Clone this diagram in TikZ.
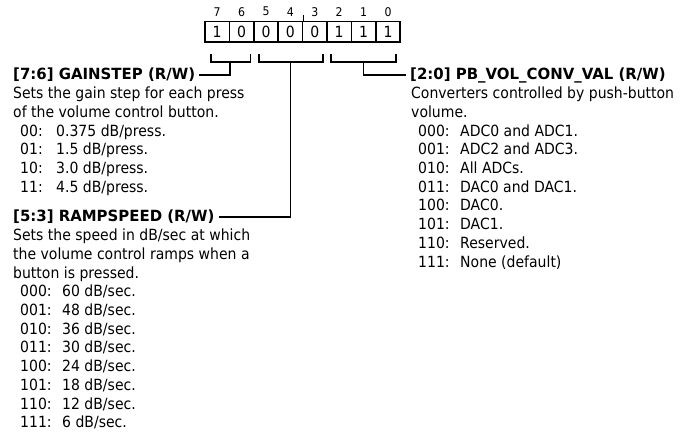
\documentclass[tikz,border=0pt]{standalone}
\usepackage{fontspec}
\setmainfont[FakeStretch=0.91]{DejaVu Sans}
\newfontfamily\fieldfont[FakeStretch=0.97]{DejaVu Sans}
\usetikzlibrary{positioning, calc}
\newcommand{\regval}[3][42pt]{\hspace*{7pt}\makebox[#1][l]{#2:}#3}

\begin{document}
\begin{tikzpicture}[x=1pt, y=-1pt,
  every node/.style={font=\fontsize{15.4}{18.7}\selectfont, inner sep=0pt},
  cell/.style={draw, line width=1.6pt, minimum width=24.4pt, minimum height=20.5pt},
  bitnum/.style={font=\fontsize{12}{13}\selectfont},
  field/.style={font=\fieldfont\bfseries\fontsize{15.4}{18.7}\selectfont, inner xsep=4pt},
  desc/.style={align=left, anchor=north west},
  brace/.style={line width=1.6pt}
]
  \useasboundingbox (0,0) rectangle (684,433);

  % register cells, bit 7 down to bit 0
  \foreach \bit/\val [count=\i from 0] in {7/1,6/0,5/0,4/0,3/0,2/1,1/1,0/1} {
    \node[cell] (b\bit) at (217.2+24.4*\i, 31.75) {\val};
    \node[bitnum] (n\bit) at ($(b\bit.north)+(0,-9)$) {\bit};
  }
  \draw[line width=1.2pt] (b4.north east) -- ++(0,-6);

  % field titles
  \node[field, anchor=west] (gainstep) at (9,75) {[7:6] GAINSTEP (R/W)};
  \node[field, anchor=west] (rampspeed) at (9,217) {[5:3] RAMPSPEED (R/W)};
  \node[field, anchor=west] (pbvol) at (406,75) {[2:0] PB\_VOL\_CONV\_VAL (R/W)};

  % descriptions
  \node[desc] (gaindesc) at (13,86.8) {
    Sets the gain step for each press\\
    of the volume control button.\\
    \regval[36pt]{00}{0.375 dB/press.}\\
    \regval[36pt]{01}{1.5 dB/press.}\\
    \regval[36pt]{10}{3.0 dB/press.}\\
    \regval[36pt]{11}{4.5 dB/press.}
  };
  \node[desc] (rampdesc) at (13,228.8) {
    Sets the speed in dB/sec at which\\
    the volume control ramps when a\\
    button is pressed.\\
    \regval{000}{60 dB/sec.}\\
    \regval{001}{48 dB/sec.}\\
    \regval{010}{36 dB/sec.}\\
    \regval{011}{30 dB/sec.}\\
    \regval{100}{24 dB/sec.}\\
    \regval{101}{18 dB/sec.}\\
    \regval{110}{12 dB/sec.}\\
    \regval{111}{6 dB/sec.}
  };
  \node[desc] (pbdesc) at (411,86.8) {
    Converters controlled by push-button\\
    volume.\\
    \regval{000}{ADC0 and ADC1.}\\
    \regval{001}{ADC2 and ADC3.}\\
    \regval{010}{All ADCs.}\\
    \regval{011}{DAC0 and DAC1.}\\
    \regval{100}{DAC0.}\\
    \regval{101}{DAC1.}\\
    \regval{110}{Reserved.}\\
    \regval{111}{None (default)}
  };

  % brackets under the fields
  \draw[brace] ($(b7.south west)+(7,11)$) -- ++(0,8) -| ($(b6.south east)+(-4,11)$);
  \draw[brace] ($(b5.south west)+(6,11)$) -- ++(0,8) -| ($(b3.south east)+(-5,11)$);
  \draw[brace] ($(b2.south west)+(5,11)$) -- ++(0,8) -| ($(b0.south east)+(-5,11)$);
  \coordinate (s76) at ($(b7.south east)+(0,19)$);
  \coordinate (s53) at ($(b4.south)+(0,19)$);
  \coordinate (s20) at ($(b1.south)+(0,19)$);
  \draw[brace] (s76) |- (gainstep.east);
  \draw[brace] (s53) |- (rampspeed.east);
  \draw[brace] (s20) |- (pbvol.west);
\end{tikzpicture}
\end{document}
